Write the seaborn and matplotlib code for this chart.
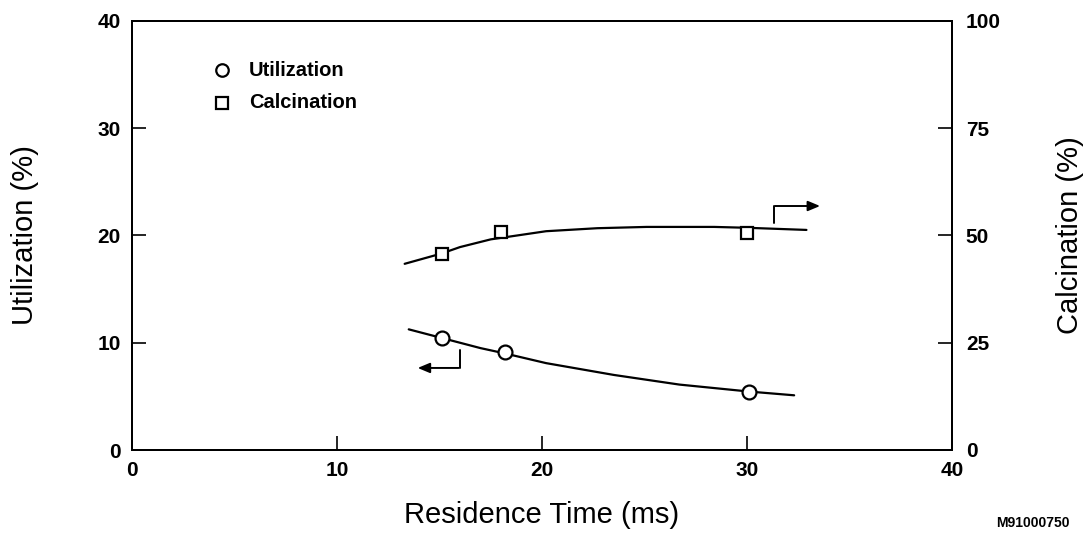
import matplotlib
matplotlib.use("Agg")
import matplotlib.pyplot as plt
import seaborn as sns
import pandas as pd

# Measured points
util_x = [15.1, 18.2, 30.1]
util_y = [10.4, 9.1, 5.4]
calc_x = [15.1, 18.0, 30.0]
calc_y = [45.7, 50.8, 50.6]

# Fitted curves
util_curve_x = [13.5, 15.1, 17.0, 18.2, 20.2, 23.5, 26.7, 30.1, 32.3]
util_curve_y = [11.25, 10.45, 9.5, 9.0, 8.1, 7.0, 6.1, 5.45, 5.1]
calc_curve_x = [13.3, 15.1, 16.0, 17.5, 20.2, 22.7, 25.1, 28.4, 30.0, 32.9]
calc_curve_y = [43.4, 45.8, 47.3, 49.1, 51.0, 51.7, 52.0, 52.0, 51.8, 51.3]

x_ticks = [0, 10, 20, 30, 40]
left_ticks = [0, 10, 20, 30, 40]
right_ticks = [0, 25, 50, 75, 100]

sns.set_theme(style="ticks")
plt.rcParams['font.family'] = ['Liberation Sans', 'DejaVu Sans']
plt.rcParams['text.color'] = 'black'
plt.rcParams['axes.labelcolor'] = 'black'

fig = plt.figure(figsize=(10.85, 5.35), dpi=100)
ax = fig.add_axes([132/1085, 1 - 450/535, (952-132)/1085, (450-21)/535])
ax2 = ax.twinx()

df_u = pd.DataFrame({"x": util_curve_x, "y": util_curve_y})
df_c = pd.DataFrame({"x": calc_curve_x, "y": calc_curve_y})
sns.lineplot(data=df_u, x="x", y="y", ax=ax, color="black", lw=1.6, sort=True)
sns.lineplot(data=df_c, x="x", y="y", ax=ax2, color="black", lw=1.6, sort=True)
ax.plot(util_x, util_y, "o", ms=10, mfc="white", mec="black", mew=1.6, zorder=5)
ax2.plot(calc_x, calc_y, "s", ms=9, mfc="white", mec="black", mew=1.6, zorder=5)

# direction arrows
ax.plot([16.0, 16.0], [9.3, 7.65], color="black", lw=1.4)
ax.annotate("", xy=(13.8, 7.65), xytext=(16.07, 7.65),
            arrowprops=dict(arrowstyle="-|>,head_length=0.6,head_width=0.25", color="black", lw=1.4))
ax.plot([31.3, 31.3], [21.2, 22.75], color="black", lw=1.4)
ax.annotate("", xy=(33.7, 22.75), xytext=(31.23, 22.75),
            arrowprops=dict(arrowstyle="-|>,head_length=0.6,head_width=0.25", color="black", lw=1.4))

ax.set_xlim(0, 40)
ax.set_ylim(0, 40)
ax2.set_ylim(0, 100)
ax.set_xticks(x_ticks)
ax.set_yticks(left_ticks)
ax2.set_yticks(right_ticks)

for a in (ax, ax2):
    for s in a.spines.values():
        s.set_linewidth(1.4)
        s.set_color("black")
ax.tick_params(axis="both", direction="in", length=10, width=1.2, labelsize=15, pad=8, colors="black")
ax2.tick_params(axis="y", direction="in", length=10, width=1.2, labelsize=15, pad=10, colors="black")
for lab in ax.get_xticklabels() + ax.get_yticklabels() + ax2.get_yticklabels():
    lab.set_fontweight("bold")

ax.set_xlabel("Residence Time (ms)", fontsize=21, labelpad=15)
ax.set_ylabel("Utilization (%)", fontsize=21, labelpad=42)
ax2.set_ylabel("Calcination (%)", fontsize=21, labelpad=40)

# legend
ax.plot([4.4], [35.4], "o", ms=9, mfc="white", mec="black", mew=1.6)
ax.plot([4.4], [32.4], "s", ms=8, mfc="white", mec="black", mew=1.6)
ax.text(5.7, 35.4, "Utilization", fontsize=14.5, fontweight="bold", va="center")
ax.text(5.7, 32.4, "Calcination", fontsize=14.5, fontweight="bold", va="center")

fig.text(1033/1085, 1 - 523/535, "M91000750", fontsize=10, fontweight="bold", ha="center", va="center")

fig.savefig("out.png", dpi=100)
